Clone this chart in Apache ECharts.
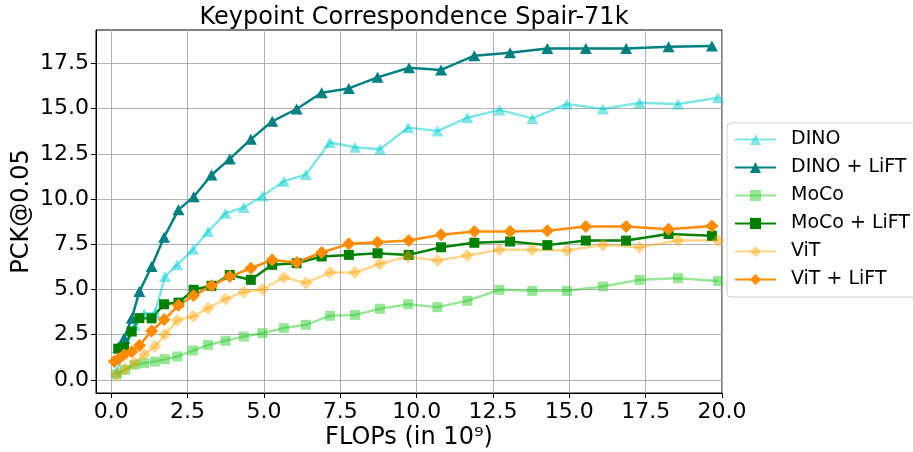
<!DOCTYPE html>
<html>
<head>
<meta charset="utf-8">
<script src="https://cdn.jsdelivr.net/npm/echarts@6/dist/echarts.min.js"></script>
<style>
html,body{margin:0;padding:0;background:#fff;}
#chart{width:913px;height:452px;}
</style>
</head>
<body>
<div id="chart"></div>
<script>
// ---- data ----
const xTicks = [0, 2.5, 5, 7.5, 10, 12.5, 15, 17.5, 20];
const yTicks = [0, 2.5, 5, 7.5, 10, 12.5, 15, 17.5];

const baseX = [0.17, 0.45, 0.77, 1.08, 1.43, 1.76, 2.16, 2.68, 3.17, 3.74, 4.34, 4.95, 5.65, 6.37, 7.16, 7.98, 8.8, 9.72, 10.68, 11.66, 12.71, 13.79, 14.92, 16.1, 17.3, 18.56, 19.87];
const dinoY = [0.45, 1.6, 3.0, 3.67, 3.7, 5.72, 6.36, 7.22, 8.2, 9.21, 9.53, 10.17, 10.98, 11.35, 13.13, 12.86, 12.75, 13.95, 13.76, 14.5, 14.93, 14.46, 15.26, 14.98, 15.33, 15.26, 15.6];
const mocoY = [0.3, 0.55, 0.83, 0.92, 1.01, 1.14, 1.29, 1.62, 1.93, 2.16, 2.39, 2.58, 2.86, 3.04, 3.54, 3.59, 3.93, 4.18, 4.02, 4.37, 4.98, 4.92, 4.92, 5.16, 5.53, 5.62, 5.47];
const vitY = [0.28, 0.6, 0.95, 1.4, 1.84, 2.5, 3.3, 3.5, 3.96, 4.47, 4.86, 5.0, 5.66, 5.36, 5.93, 5.93, 6.42, 6.82, 6.6, 6.87, 7.19, 7.19, 7.15, 7.46, 7.33, 7.7, 7.7];

const dinoLiftX = [0.23, 0.42, 0.67, 0.92, 1.32, 1.73, 2.2, 2.7, 3.28, 3.88, 4.57, 5.27, 6.07, 6.89, 7.78, 8.72, 9.75, 10.8, 11.89, 13.06, 14.28, 15.54, 16.86, 18.25, 19.67];
const dinoLiftY = [1.8, 2.3, 3.4, 4.88, 6.27, 7.89, 9.4, 10.13, 11.33, 12.22, 13.3, 14.3, 14.98, 15.88, 16.12, 16.73, 17.26, 17.14, 17.93, 18.09, 18.33, 18.33, 18.33, 18.42, 18.46];
const mocoLiftX = [0.23, 0.42, 0.67, 0.92, 1.32, 1.73, 2.2, 2.7, 3.28, 3.88, 4.57, 5.27, 6.07, 6.89, 7.78, 8.72, 9.74, 10.8, 11.89, 13.06, 14.28, 15.54, 16.86, 18.25, 19.67];
const mocoLiftY = [1.72, 1.8, 2.67, 3.41, 3.4, 4.18, 4.27, 4.98, 5.2, 5.8, 5.53, 6.36, 6.45, 6.82, 6.91, 7.0, 6.91, 7.33, 7.58, 7.65, 7.45, 7.7, 7.7, 8.07, 7.97];
const vitLiftX = [0.1, 0.23, 0.42, 0.67, 0.92, 1.32, 1.73, 2.2, 2.7, 3.28, 3.88, 4.57, 5.27, 6.07, 6.89, 7.78, 8.72, 9.74, 10.8, 11.89, 13.06, 14.28, 15.54, 16.86, 18.25, 19.67];
const vitLiftY = [1.01, 1.15, 1.38, 1.55, 1.9, 2.7, 3.33, 4.12, 4.66, 5.2, 5.71, 6.17, 6.63, 6.49, 7.04, 7.52, 7.61, 7.7, 8.02, 8.2, 8.2, 8.25, 8.48, 8.48, 8.33, 8.51];

const seriesNames = ['DINO', 'DINO + LiFT', 'MoCo', 'MoCo + LiFT', 'ViT', 'ViT + LiFT'];

// ---- build ----
const zip = (xs, ys) => xs.map((x, i) => [x, ys[i]]);
const FONT = 'DejaVu Sans';

function mk(name, xs, ys, color, symbol, size) {
  return {
    name: name, type: 'line', data: zip(xs, ys),
    symbol: symbol, symbolSize: size, showSymbol: true,
    lineStyle: { color: color, width: 2.5 },
    itemStyle: { color: color },
    emphasis: { disabled: true },
    animation: false
  };
}

const series = [
  mk(seriesNames[0], baseX, dinoY, 'rgba(0,206,209,0.5)', 'triangle', [12, 11]),
  mk(seriesNames[1], dinoLiftX, dinoLiftY, '#008080', 'triangle', [12, 11]),
  mk(seriesNames[2], baseX, mocoY, 'rgba(50,205,50,0.5)', 'rect', 10),
  mk(seriesNames[3], mocoLiftX, mocoLiftY, '#008000', 'rect', 10),
  mk(seriesNames[4], baseX, vitY, 'rgba(255,165,0,0.45)', 'diamond', 13),
  mk(seriesNames[5], vitLiftX, vitLiftY, '#ff8c00', 'diamond', 13)
];

const chart = echarts.init(document.getElementById('chart'), null, { renderer: 'canvas' });
chart.setOption({
  backgroundColor: '#fff',
  animation: false,
  title: {
    text: 'Keypoint Correspondence Spair-71k',
    left: 409, top: 1, textAlign: 'center',
    textStyle: { fontFamily: FONT, fontSize: 24, fontWeight: 'normal', color: '#000' }
  },
  grid: {
    left: 96, right: 191, top: 30, bottom: 59,
    containLabel: false, outerBoundsMode: 'none',
    show: true, borderColor: '#000', borderWidth: 1, backgroundColor: 'transparent'
  },
  legend: {
    data: seriesNames,
    orient: 'vertical',
    left: 727, top: 123,
    itemWidth: 41, itemHeight: 14, itemGap: 9,
    padding: [7, 24, 8, 7],
    backgroundColor: '#fff',
    borderColor: '#d0d0d0', borderWidth: 1, borderRadius: 4,
    textStyle: { fontFamily: FONT, fontSize: 19, color: '#000', padding: [0, 0, 0, 10] }
  },
  xAxis: {
    type: 'value', min: -0.5, max: 20,
    name: 'FLOPs (in 10⁹)', nameLocation: 'middle', nameGap: 33, nameMoveOverlap: false,
    nameTextStyle: { fontFamily: FONT, fontSize: 24, color: '#000' },
    axisLine: { show: true, onZero: false, lineStyle: { color: '#000', width: 1 } },
    axisTick: { show: true, length: 5, customValues: xTicks, lineStyle: { color: '#000' } },
    axisLabel: { customValues: xTicks, formatter: v => Number(v).toFixed(1), fontFamily: FONT, fontSize: 22, color: '#000', margin: 8 },
    splitLine: { show: true, lineStyle: { color: '#b0b0b0', width: 1 } }
  },
  yAxis: {
    type: 'value', min: -0.73, max: 19.35,
    name: 'PCK@0.05', nameLocation: 'middle', nameGap: 62, nameMoveOverlap: false,
    nameTextStyle: { fontFamily: FONT, fontSize: 24, color: '#000' },
    axisLine: { show: true, onZero: false, lineStyle: { color: '#000', width: 1 } },
    axisTick: { show: true, length: 5, customValues: yTicks, lineStyle: { color: '#000' } },
    axisLabel: { customValues: yTicks, formatter: v => Number(v).toFixed(1), fontFamily: FONT, fontSize: 22, color: '#000', margin: 7 },
    splitLine: { show: true, lineStyle: { color: '#b0b0b0', width: 1 } }
  },
  series: series
});
</script>
</body>
</html>
